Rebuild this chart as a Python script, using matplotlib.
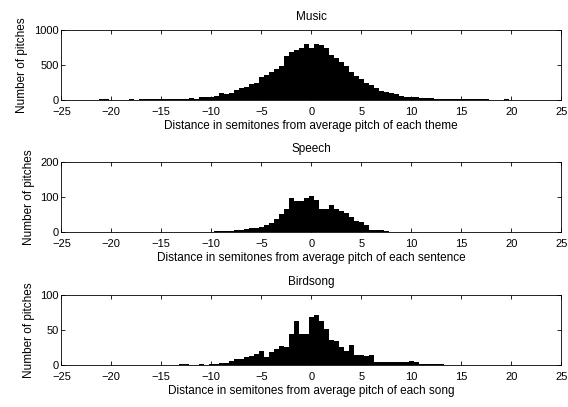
import numpy as np
import matplotlib
matplotlib.use("Agg")
import matplotlib.pyplot as plt

plt.rcParams['font.family'] = ['Liberation Sans', 'DejaVu Sans']
plt.rcParams['font.size'] = 8.5

# bin centres (semitones), 0.5 wide bins
music_centers = np.arange(-21, 21.01, 0.5)
music_counts = [20, 20, 5, 3, 3, 5, 12, 8, 10, 10, 12, 12, 14, 15, 15, 16, 18, 20,
                29, 22, 39, 43, 45, 58, 97, 90, 106, 145, 174, 188, 237, 240, 333,
                357, 396, 444, 493, 625, 686, 715, 748, 807, 750, 807, 790, 750,
                650, 600, 551, 483, 400, 348, 300, 251, 213, 179, 130, 121, 106,
                82, 58, 48, 43, 39, 34, 29, 24, 19, 15, 14, 12, 12, 14, 16, 10, 14,
                14, 14, 8, 5, 4, 14, 8, 2, 2]

speech_centers = np.arange(-10, 8.01, 0.5)
speech_counts = [1, 2, 2, 3, 4, 5, 7, 9, 12, 12, 15, 20, 25, 37, 50, 65, 97, 88, 88,
                 97, 102, 90, 67, 67, 77, 67, 61, 53, 43, 31, 28, 19, 5, 7, 7, 4, 1]

bird_centers = np.arange(-13, 13.01, 0.5)
bird_counts = [1, 1, 0, 0, 2, 0, 1, 2, 3, 3, 6, 9, 8, 11, 13, 16, 20, 11, 18, 23, 27,
               26, 44, 63, 44, 44, 68, 72, 63, 52, 36, 35, 26, 20, 29, 15, 14, 13,
               14, 5, 4, 5, 4, 4, 4, 5, 6, 4, 2, 1, 1, 1, 1]

titles = ["Music", "Speech", "Birdsong"]
xlabels = ["Distance in semitones from average pitch of each theme",
           "Distance in semitones from average pitch of each sentence",
           "Distance in semitones from average pitch of each song"]
ylims = [1000, 200, 100]
yticks = [[0, 500, 1000], [0, 100, 200], [0, 50, 100]]

fig = plt.figure(figsize=(5.68, 4.07), dpi=100)
bottoms = [0.754, 0.430, 0.103]
data = [(music_centers, music_counts), (speech_centers, speech_counts),
        (bird_centers, bird_counts)]

for i in range(3):
    ax = fig.add_axes([0.108, bottoms[i], 0.880, 0.172])
    x, y = data[i]
    ax.bar(x, y, width=0.5, color='black', linewidth=0)
    ax.set_xlim(-25, 25)
    ax.set_ylim(0, ylims[i])
    ax.set_xticks(np.arange(-25, 26, 5))
    ax.set_yticks(yticks[i])
    ax.tick_params(direction='in', top=True, right=True, length=3, width=0.6,
                   labelsize=8)
    ax.tick_params(axis='x', pad=5)
    ax.tick_params(axis='y', pad=2)
    for s in ax.spines.values():
        s.set_linewidth(0.6)
    ax.set_title(titles[i], fontsize=8.5, pad=7)
    ax.set_xlabel(xlabels[i], labelpad=2)
    ax.set_ylabel("Number of pitches", labelpad=4)

fig.savefig("out.png", dpi=100, facecolor='white')
